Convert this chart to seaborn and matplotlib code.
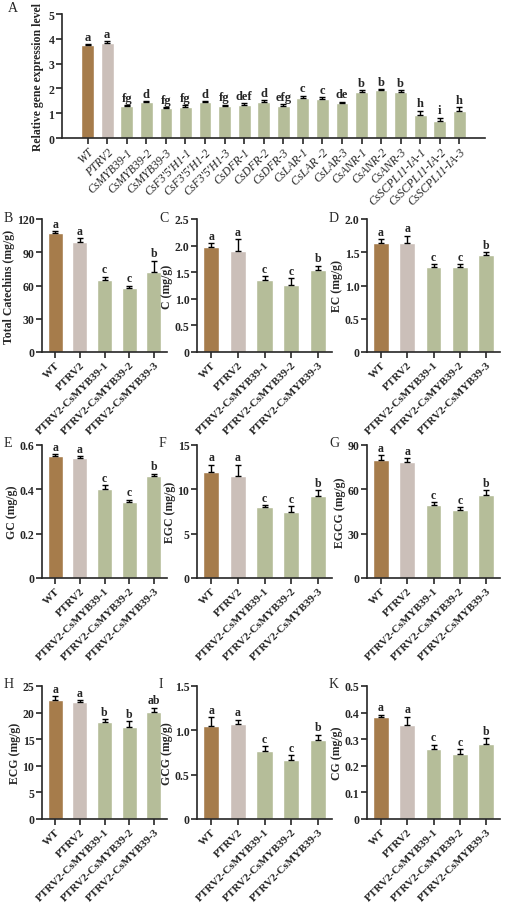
import matplotlib
matplotlib.use("Agg")
import matplotlib.pyplot as plt
import seaborn as sns
import pandas as pd
import numpy as np

sns.set_style("ticks")
plt.rcParams['font.family'] = ['Liberation Serif', 'DejaVu Serif']
plt.rcParams['font.weight'] = 'bold'

C_WT, C_PT, C_OT = "#a67c4b", "#cbbfb9", "#b5bd99"

genes = ["WT", "PTRV2", "CsMYB39-1", "CsMYB39-2", "CsMYB39-3", "CsF3'5'H1-1", "CsF3'5'H1-2",
         "CsF3'5'H1-3", "CsDFR-1", "CsDFR-2", "CsDFR-3", "CsLAR-1", "CsLAR -2", "CsLAR-3",
         "CsANR-1", "CsANR-2", "CsANR-3", "CsSCPL11-IA-1", "CsSCPL11-IA-2", "CsSCPL11-IA-3"]
gene_vals = [3.76, 3.83, 1.30, 1.45, 1.22, 1.27, 1.45, 1.30, 1.33, 1.45, 1.30, 1.63, 1.58, 1.40,
             1.87, 1.92, 1.87, 0.93, 0.70, 1.07]
gene_err = [0.02, 0.07, 0.04, 0.05, 0.03, 0.05, 0.05, 0.05, 0.09, 0.09, 0.08, 0.08, 0.07, 0.07,
            0.06, 0.06, 0.06, 0.17, 0.12, 0.18]
gene_sig = ["a", "a", "fg", "d", "fg", "fg", "d", "fg", "def", "d", "efg", "c", "c", "de",
            "b", "b", "b", "h", "i", "h"]

groups = ["WT", "PTRV2", "PTRV2-CsMYB39-1", "PTRV2-CsMYB39-2", "PTRV2-CsMYB39-3"]

panels = [
    ("B", "Total Catechins (mg/g)", [107, 99, 65, 57.5, 72], [2, 4, 3, 2.5, 10.5], ["a", "a", "c", "c", "b"], 120, [0, 30, 60, 90, 120], ["0", "30", "60", "90", "120"]),
    ("C", "C (mg/g)", [1.98, 1.90, 1.36, 1.26, 1.54], [0.06, 0.22, 0.06, 0.13, 0.08], ["a", "a", "c", "c", "b"], 2.5, [0, 0.5, 1, 1.5, 2, 2.5], ["0", "0.5", "1.0", "1.5", "2.0", "2.5"]),
    ("D", "EC (mg/g)", [1.64, 1.64, 1.28, 1.28, 1.46], [0.06, 0.11, 0.04, 0.04, 0.04], ["a", "a", "c", "c", "b"], 2.0, [0, 0.5, 1, 1.5, 2], ["0", "0.5", "1.0", "1.5", "2.0"]),
    ("E", "GC (mg/g)", [0.55, 0.54, 0.40, 0.345, 0.46], [0.01, 0.01, 0.02, 0.008, 0.01], ["a", "a", "c", "c", "b"], 0.6, [0, 0.2, 0.4, 0.6], ["0", "0.2", "0.4", "0.6"]),
    ("F", "EGC (mg/g)", [12.0, 11.5, 8.0, 7.5, 9.2], [0.8, 1.3, 0.2, 0.6, 0.7], ["a", "a", "c", "c", "b"], 15, [0, 5, 10, 15], ["0", "5", "10", "15"]),
    ("G", "EGCG (mg/g)", [80, 78.5, 49.5, 46, 56.5], [3, 2.5, 2, 2, 3], ["a", "a", "c", "c", "b"], 90, [0, 30, 60, 90], ["0", "30", "60", "90"]),
    ("H", "ECG (mg/g)", [22.4, 22.0, 18.2, 17.3, 20.2], [0.7, 0.4, 0.6, 1.1, 0.7], ["a", "a", "b", "b", "ab"], 25, [0, 5, 10, 15, 20, 25], ["0", "5", "10", "15", "20", "25"]),
    ("I", "GCG (mg/g)", [1.05, 1.07, 0.77, 0.67, 0.89], [0.1, 0.05, 0.05, 0.05, 0.06], ["a", "a", "c", "c", "b"], 1.5, [0, 0.5, 1.0, 1.5], ["0", "0.5", "1.0", "1.5"]),
    ("K", "CG (mg/g)", [0.382, 0.355, 0.262, 0.246, 0.283], [0.01, 0.03, 0.018, 0.016, 0.02], ["a", "a", "c", "c", "b"], 0.5, [0, 0.1, 0.2, 0.3, 0.4, 0.5], ["0", "0.1", "0.2", "0.3", "0.4", "0.5"]),
]

W, H = 508, 904
fig = plt.figure(figsize=(W / 100, H / 100), dpi=100)

def add_ax(x0, y0, x1, y1):
    return fig.add_axes([x0 / W, 1 - y1 / H, (x1 - x0) / W, (y1 - y0) / H])

def style(ax):
    sns.despine(ax=ax)
    for s in ["left", "bottom"]:
        ax.spines[s].set_linewidth(1.2)
    ax.tick_params(width=1.2, length=4, labelsize=8.5, pad=1.5)

def draw(ax, cats, vals, errs, sigs, palette, width, fs):
    df = pd.DataFrame({"cat": cats, "val": vals})
    sns.barplot(data=df, x="cat", y="val", hue="cat", palette=palette, legend=False,
                ax=ax, width=width, saturation=1)
    ax.errorbar(np.arange(len(vals)), vals, yerr=[np.zeros(len(errs)), errs], fmt="none",
                ecolor="black", elinewidth=1, capsize=2.5, capthick=1)
    ymax = ax.get_ylim()[1]
    for i, (v, e, s) in enumerate(zip(vals, errs, sigs)):
        ax.text(i, v + e + ymax * 0.01, s, ha="center", va="bottom", fontsize=fs, fontweight="bold")
    ax.set_xlabel("")

# Panel A
axA = add_ax(62, 15, 485, 139)
pal = [C_WT, C_PT] + [C_OT] * (len(genes) - 2)
axA.set_ylim(0, 5)
draw(axA, genes, gene_vals, gene_err, gene_sig, pal, 0.65, 9)
axA.set_ylim(0, 5)
axA.set_yticks([0, 1, 2, 3, 4, 5])
axA.set_ylabel("Relative gene expression level", fontsize=8.5, fontweight="bold", labelpad=3)
style(axA)
axA.set_xticks(range(len(genes)))
axA.set_xticklabels(genes, rotation=45, ha="right", rotation_mode="anchor", fontsize=8.5,
                    fontstyle="italic", fontweight="normal")
fig.text(8 / W, 1 - 8 / H, "A", fontsize=10, fontweight="normal", va="center")

xs = [(42, 167), (197, 332), (367, 500)]
ys = [(220, 353), (446, 579), (687, 820)]
for k, (lab, ylab, vals, errs, sigs, ymax, yt, ytl) in enumerate(panels):
    r, c = divmod(k, 3)
    x0, x1 = xs[c]
    y0, y1 = ys[r]
    ax = add_ax(x0, y0, x1, y1)
    ax.set_ylim(0, ymax)
    draw(ax, groups, vals, errs, sigs, [C_WT, C_PT, C_OT, C_OT, C_OT], 0.6, 8.5)
    ax.set_ylim(0, ymax)
    ax.set_yticks(yt)
    ax.set_yticklabels(ytl)
    ax.set_ylabel(ylab, fontsize=8.5, fontweight="bold", labelpad=1)
    style(ax)
    ax.set_xticks(range(5))
    ax.set_xticklabels(groups, rotation=45, ha="right", rotation_mode="anchor", fontsize=8)
    fig.text((x0 - 38) / W, 1 - (y0 - 2) / H, lab, fontsize=10, fontweight="normal", va="center")

fig.savefig("out.png", dpi=100)
